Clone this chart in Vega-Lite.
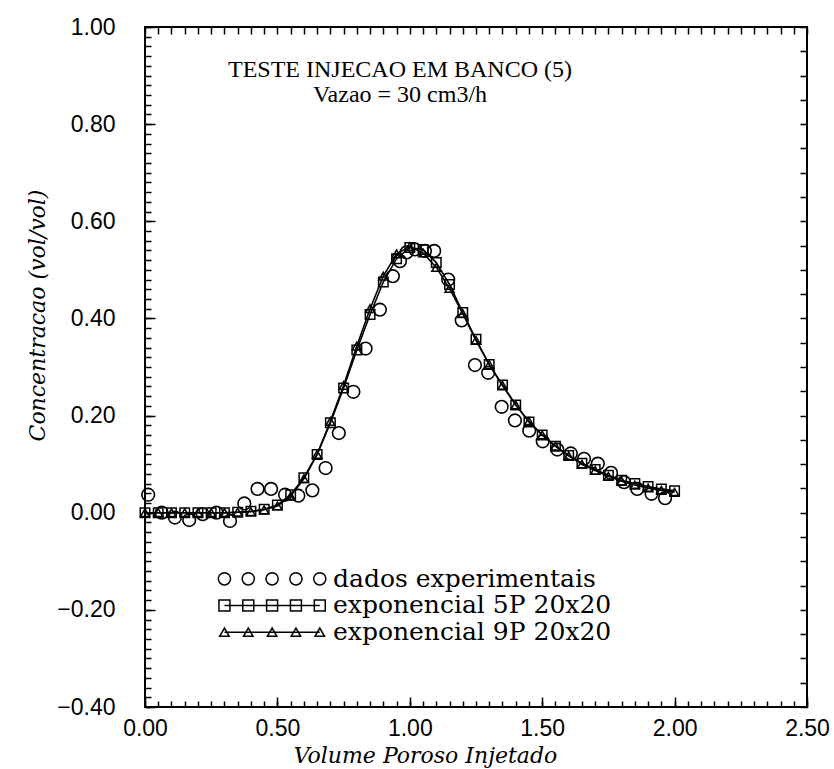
{
  "$schema": "https://vega.github.io/schema/vega-lite/v6.json",
  "width": 662,
  "height": 680,
  "autosize": {"type": "none"},
  "padding": {"left": 145, "top": 27, "right": 27, "bottom": 62},
  "background": "white",
  "title": {
    "text": ["TESTE INJECAO EM BANCO (5)", "Vazao = 30 cm3/h"],
    "orient": "top",
    "anchor": "middle",
    "offset": -98,
    "dx": -76,
    "font": "Liberation Serif",
    "fontSize": 24,
    "fontWeight": "normal",
    "lineHeight": 25,
    "color": "black"
  },
  "config": {
    "view": {"stroke": "black", "strokeWidth": 2},
    "axis": {
      "domain": false,
      "ticks": true,
      "tickColor": "black",
      "tickOpacity": 1,
      "tickWidth": 1.5,
      "labelColor": "black",
      "titleColor": "black",
      "grid": false,
      "labelFont": "Liberation Sans",
      "labelFontSize": 23
    }
  },
  "datasets": {
    "exp": [
      {"x": 0.012, "y": 0.037}, {"x": 0.063, "y": 0.0}, {"x": 0.113, "y": -0.01}, {"x": 0.167, "y": -0.015},
      {"x": 0.218, "y": -0.003}, {"x": 0.27, "y": 0.0}, {"x": 0.321, "y": -0.017}, {"x": 0.375, "y": 0.019},
      {"x": 0.425, "y": 0.049}, {"x": 0.476, "y": 0.049}, {"x": 0.529, "y": 0.037}, {"x": 0.579, "y": 0.035},
      {"x": 0.632, "y": 0.046}, {"x": 0.682, "y": 0.092}, {"x": 0.732, "y": 0.164}, {"x": 0.787, "y": 0.249},
      {"x": 0.833, "y": 0.338}, {"x": 0.887, "y": 0.418}, {"x": 0.936, "y": 0.487}, {"x": 0.963, "y": 0.518},
      {"x": 0.988, "y": 0.536}, {"x": 1.02, "y": 0.542}, {"x": 1.057, "y": 0.539}, {"x": 1.092, "y": 0.539},
      {"x": 1.145, "y": 0.48}, {"x": 1.196, "y": 0.396}, {"x": 1.246, "y": 0.304}, {"x": 1.296, "y": 0.288},
      {"x": 1.347, "y": 0.218}, {"x": 1.397, "y": 0.19}, {"x": 1.451, "y": 0.169}, {"x": 1.502, "y": 0.147},
      {"x": 1.557, "y": 0.13}, {"x": 1.608, "y": 0.122}, {"x": 1.658, "y": 0.111}, {"x": 1.71, "y": 0.101},
      {"x": 1.76, "y": 0.082}, {"x": 1.809, "y": 0.063}, {"x": 1.859, "y": 0.049}, {"x": 1.913, "y": 0.039},
      {"x": 1.964, "y": 0.03}
    ],
    "models": [
      {"s": "5P", "x": 0.0, "y": 0.0}, {"s": "5P", "x": 0.05, "y": 0.0}, {"s": "5P", "x": 0.1, "y": 0.0},
      {"s": "5P", "x": 0.15, "y": 0.0}, {"s": "5P", "x": 0.2, "y": 0.0}, {"s": "5P", "x": 0.25, "y": 0.0},
      {"s": "5P", "x": 0.3, "y": 0.0}, {"s": "5P", "x": 0.35, "y": 0.001}, {"s": "5P", "x": 0.4, "y": 0.003},
      {"s": "5P", "x": 0.45, "y": 0.007}, {"s": "5P", "x": 0.5, "y": 0.016}, {"s": "5P", "x": 0.55, "y": 0.037},
      {"s": "5P", "x": 0.6, "y": 0.072}, {"s": "5P", "x": 0.65, "y": 0.12}, {"s": "5P", "x": 0.7, "y": 0.185},
      {"s": "5P", "x": 0.75, "y": 0.257}, {"s": "5P", "x": 0.8, "y": 0.335}, {"s": "5P", "x": 0.85, "y": 0.408},
      {"s": "5P", "x": 0.9, "y": 0.475}, {"s": "5P", "x": 0.95, "y": 0.523}, {"s": "5P", "x": 1.0, "y": 0.546},
      {"s": "5P", "x": 1.05, "y": 0.542}, {"s": "5P", "x": 1.1, "y": 0.515}, {"s": "5P", "x": 1.15, "y": 0.47},
      {"s": "5P", "x": 1.2, "y": 0.412}, {"s": "5P", "x": 1.25, "y": 0.357}, {"s": "5P", "x": 1.3, "y": 0.305},
      {"s": "5P", "x": 1.35, "y": 0.263}, {"s": "5P", "x": 1.4, "y": 0.222}, {"s": "5P", "x": 1.45, "y": 0.187},
      {"s": "5P", "x": 1.5, "y": 0.16}, {"s": "5P", "x": 1.55, "y": 0.137}, {"s": "5P", "x": 1.6, "y": 0.118},
      {"s": "5P", "x": 1.65, "y": 0.102}, {"s": "5P", "x": 1.7, "y": 0.089}, {"s": "5P", "x": 1.75, "y": 0.077},
      {"s": "5P", "x": 1.8, "y": 0.067}, {"s": "5P", "x": 1.85, "y": 0.06}, {"s": "5P", "x": 1.9, "y": 0.054},
      {"s": "5P", "x": 1.95, "y": 0.049}, {"s": "5P", "x": 2.0, "y": 0.045},
      {"s": "9P", "x": 0.0, "y": 0.0}, {"s": "9P", "x": 0.05, "y": 0.0}, {"s": "9P", "x": 0.1, "y": 0.0},
      {"s": "9P", "x": 0.15, "y": 0.0}, {"s": "9P", "x": 0.2, "y": 0.0}, {"s": "9P", "x": 0.25, "y": 0.0},
      {"s": "9P", "x": 0.3, "y": 0.0}, {"s": "9P", "x": 0.35, "y": 0.001}, {"s": "9P", "x": 0.4, "y": 0.002},
      {"s": "9P", "x": 0.45, "y": 0.006}, {"s": "9P", "x": 0.5, "y": 0.014}, {"s": "9P", "x": 0.55, "y": 0.034},
      {"s": "9P", "x": 0.6, "y": 0.07}, {"s": "9P", "x": 0.65, "y": 0.12}, {"s": "9P", "x": 0.7, "y": 0.188},
      {"s": "9P", "x": 0.75, "y": 0.262}, {"s": "9P", "x": 0.8, "y": 0.343}, {"s": "9P", "x": 0.85, "y": 0.42},
      {"s": "9P", "x": 0.9, "y": 0.487}, {"s": "9P", "x": 0.95, "y": 0.533}, {"s": "9P", "x": 1.0, "y": 0.548},
      {"s": "9P", "x": 1.05, "y": 0.535}, {"s": "9P", "x": 1.1, "y": 0.505}, {"s": "9P", "x": 1.15, "y": 0.462},
      {"s": "9P", "x": 1.2, "y": 0.41}, {"s": "9P", "x": 1.25, "y": 0.355}, {"s": "9P", "x": 1.3, "y": 0.305},
      {"s": "9P", "x": 1.35, "y": 0.262}, {"s": "9P", "x": 1.4, "y": 0.222}, {"s": "9P", "x": 1.45, "y": 0.188},
      {"s": "9P", "x": 1.5, "y": 0.16}, {"s": "9P", "x": 1.55, "y": 0.137}, {"s": "9P", "x": 1.6, "y": 0.117},
      {"s": "9P", "x": 1.65, "y": 0.1}, {"s": "9P", "x": 1.7, "y": 0.087}, {"s": "9P", "x": 1.75, "y": 0.075},
      {"s": "9P", "x": 1.8, "y": 0.065}, {"s": "9P", "x": 1.85, "y": 0.057}, {"s": "9P", "x": 1.9, "y": 0.051},
      {"s": "9P", "x": 1.95, "y": 0.046}, {"s": "9P", "x": 2.0, "y": 0.042}
    ],
    "legendSymbols": [
      {"s": "dados", "x": 0.3, "y": -0.136}, {"s": "dados", "x": 0.39, "y": -0.136}, {"s": "dados", "x": 0.48, "y": -0.136},
      {"s": "dados", "x": 0.57, "y": -0.136}, {"s": "dados", "x": 0.66, "y": -0.136},
      {"s": "5P", "x": 0.3, "y": -0.191}, {"s": "5P", "x": 0.39, "y": -0.191}, {"s": "5P", "x": 0.48, "y": -0.191},
      {"s": "5P", "x": 0.57, "y": -0.191}, {"s": "5P", "x": 0.66, "y": -0.191},
      {"s": "9P", "x": 0.3, "y": -0.246}, {"s": "9P", "x": 0.39, "y": -0.246}, {"s": "9P", "x": 0.48, "y": -0.246},
      {"s": "9P", "x": 0.57, "y": -0.246}, {"s": "9P", "x": 0.66, "y": -0.246}
    ],
    "legendText": [
      {"x": 0.71, "y": -0.136, "text": "dados experimentais"},
      {"x": 0.71, "y": -0.191, "text": "exponencial 5P 20x20"},
      {"x": 0.71, "y": -0.246, "text": "exponencial 9P 20x20"}
    ]
  },
  "layer": [
    {
      "data": {"name": "exp"},
      "mark": {"type": "point", "shape": "circle", "filled": false, "stroke": "black", "strokeWidth": 1.6, "size": 160, "opacity": 1},
      "encoding": {
        "x": {
          "field": "x", "type": "quantitative",
          "scale": {"domain": [0, 2.5], "nice": false, "zero": false},
          "axis": {
            "orient": "bottom", "values": [0, 0.5, 1, 1.5, 2, 2.5], "format": ".2f",
            "ticks": true, "tickSize": -10, "labelPadding": 20, "labelFlush": false, "labelOverlap": false,
            "title": "Volume Poroso Injetado", "titleFont": "DejaVu Serif", "titleFontStyle": "italic",
            "titleFontWeight": "normal", "titleFontSize": 22, "titleX": 280, "titleY": 48,
            "titleAlign": "center", "titleBaseline": "middle"
          }
        },
        "y": {
          "field": "y", "type": "quantitative",
          "scale": {"domain": [-0.4, 1.0], "nice": false, "zero": false},
          "axis": {
            "orient": "left", "values": [-0.4, -0.2, 0, 0.2, 0.4, 0.6, 0.8, 1.0], "format": ".2f",
            "ticks": true, "tickSize": -10, "labelPadding": 40, "labelFlush": false, "labelOverlap": false,
            "labelBaseline": "middle",
            "title": "Concentracao (vol/vol)", "titleFont": "DejaVu Serif", "titleFontStyle": "italic",
            "titleFontWeight": "normal", "titleFontSize": 22, "titleX": -108, "titleY": 288,
            "titleAngle": -90, "titleAlign": "center", "titleBaseline": "middle"
          }
        }
      }
    },
    {
      "data": {"name": "models"},
      "mark": {"type": "line", "color": "black", "strokeWidth": 1.6},
      "encoding": {
        "x": {
          "field": "x", "type": "quantitative",
          "axis": {
            "orient": "bottom", "labels": true, "labelExpr": "''", "title": null, "tickSize": -6,
            "values": [0, 0.05, 0.1, 0.15, 0.2, 0.25, 0.3, 0.35, 0.4, 0.45, 0.5, 0.55, 0.6, 0.65, 0.7, 0.75, 0.8, 0.85, 0.9, 0.95, 1.0, 1.05, 1.1, 1.15, 1.2, 1.25, 1.3, 1.35, 1.4, 1.45, 1.5, 1.55, 1.6, 1.65, 1.7, 1.75, 1.8, 1.85, 1.9, 1.95, 2.0, 2.05, 2.1, 2.15, 2.2, 2.25, 2.3, 2.35, 2.4, 2.45, 2.5]
          }
        },
        "y": {
          "field": "y", "type": "quantitative",
          "axis": {
            "orient": "left", "labels": true, "labelExpr": "''", "title": null, "tickSize": -6,
            "values": [-0.4, -0.38, -0.36, -0.34, -0.32, -0.3, -0.28, -0.26, -0.24, -0.22, -0.2, -0.18, -0.16, -0.14, -0.12, -0.1, -0.08, -0.06, -0.04, -0.02, 0, 0.02, 0.04, 0.06, 0.08, 0.1, 0.12, 0.14, 0.16, 0.18, 0.2, 0.22, 0.24, 0.26, 0.28, 0.3, 0.32, 0.34, 0.36, 0.38, 0.4, 0.42, 0.44, 0.46, 0.48, 0.5, 0.52, 0.54, 0.56, 0.58, 0.6, 0.62, 0.64, 0.66, 0.68, 0.7, 0.72, 0.74, 0.76, 0.78, 0.8, 0.82, 0.84, 0.86, 0.88, 0.9, 0.92, 0.94, 0.96, 0.98, 1.0]
          }
        },
        "detail": {"field": "s", "type": "nominal"}
      }
    },
    {
      "data": {"name": "models"},
      "transform": [{"filter": "datum.s === '5P'"}],
      "mark": {"type": "point", "shape": "square", "filled": false, "stroke": "black", "strokeWidth": 1.5, "size": 90, "opacity": 1},
      "encoding": {
        "x": {
          "field": "x", "type": "quantitative",
          "axis": {
            "orient": "top", "labels": true, "labelExpr": "''", "title": null, "tickSize": -7,
            "values": [0, 0.05, 0.1, 0.15, 0.2, 0.25, 0.3, 0.35, 0.4, 0.45, 0.5, 0.55, 0.6, 0.65, 0.7, 0.75, 0.8, 0.85, 0.9, 0.95, 1.0, 1.05, 1.1, 1.15, 1.2, 1.25, 1.3, 1.35, 1.4, 1.45, 1.5, 1.55, 1.6, 1.65, 1.7, 1.75, 1.8, 1.85, 1.9, 1.95, 2.0, 2.05, 2.1, 2.15, 2.2, 2.25, 2.3, 2.35, 2.4, 2.45, 2.5]
          }
        },
        "y": {
          "field": "y", "type": "quantitative",
          "axis": {
            "orient": "right", "labels": true, "labelExpr": "''", "title": null, "tickSize": -7,
            "values": [-0.4, -0.35, -0.3, -0.25, -0.2, -0.15, -0.1, -0.05, 0, 0.05, 0.1, 0.15, 0.2, 0.25, 0.3, 0.35, 0.4, 0.45, 0.5, 0.55, 0.6, 0.65, 0.7, 0.75, 0.8, 0.85, 0.9, 0.95, 1.0]
          }
        }
      }
    },
    {
      "data": {"name": "models"},
      "transform": [{"filter": "datum.s === '9P'"}],
      "mark": {"type": "point", "shape": "triangle-up", "filled": false, "stroke": "black", "strokeWidth": 1.5, "size": 80, "opacity": 1},
      "encoding": {
        "x": {"field": "x", "type": "quantitative", "axis": null},
        "y": {"field": "y", "type": "quantitative", "axis": null}
      }
    },
    {
      "data": {"name": "legendSymbols"},
      "transform": [{"filter": "datum.s !== 'dados'"}],
      "mark": {"type": "line", "color": "black", "strokeWidth": 1.5},
      "encoding": {
        "x": {"field": "x", "type": "quantitative", "axis": null},
        "y": {"field": "y", "type": "quantitative", "axis": null},
        "detail": {"field": "s", "type": "nominal"}
      }
    },
    {
      "data": {"name": "legendSymbols"},
      "mark": {"type": "point", "filled": false, "stroke": "black", "strokeWidth": 1.5, "opacity": 1},
      "encoding": {
        "x": {"field": "x", "type": "quantitative", "axis": null},
        "y": {"field": "y", "type": "quantitative", "axis": null},
        "shape": {"field": "s", "type": "nominal", "scale": {"domain": ["dados", "5P", "9P"], "range": ["circle", "square", "triangle-up"]}, "legend": null},
        "size": {"field": "s", "type": "nominal", "scale": {"domain": ["dados", "5P", "9P"], "range": [150, 90, 80]}, "legend": null}
      }
    },
    {
      "data": {"name": "legendText"},
      "mark": {"type": "text", "align": "left", "baseline": "middle", "font": "DejaVu Serif", "fontSize": 25, "color": "black"},
      "encoding": {
        "x": {"field": "x", "type": "quantitative", "axis": null},
        "y": {"field": "y", "type": "quantitative", "axis": null},
        "text": {"field": "text", "type": "nominal"}
      }
    }
  ],
  "resolve": {"axis": {"x": "independent", "y": "independent"}}
}
